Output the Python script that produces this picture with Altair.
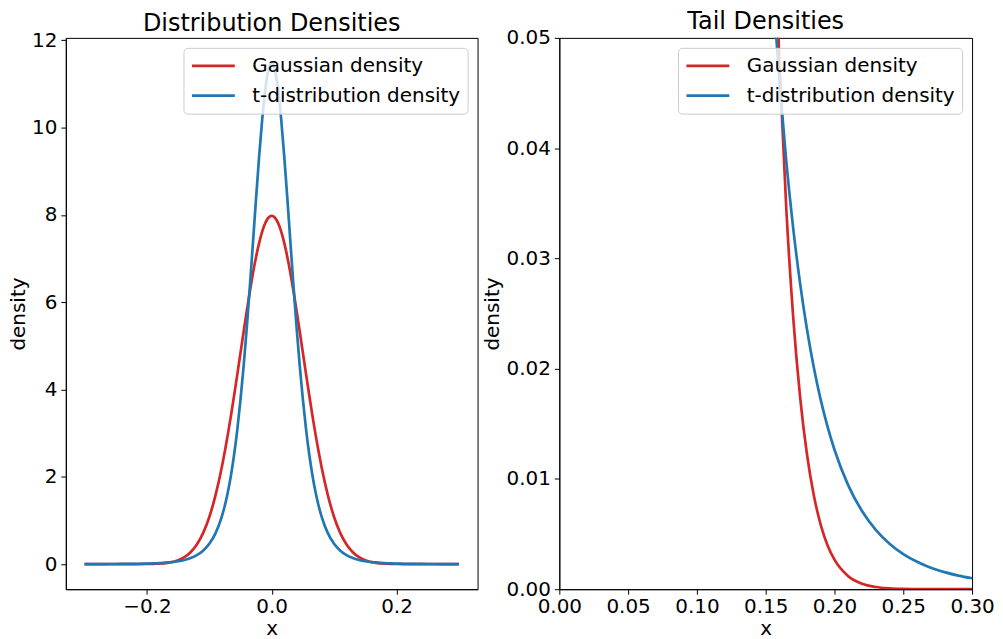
import altair as alt
import pandas as pd

# x positions (non-negative half; the curves are symmetric about 0)
x_pos = [0.0, 0.005, 0.01, 0.015, 0.02, 0.025, 0.03, 0.035, 0.04, 0.045, 0.05,
         0.055, 0.06, 0.065, 0.07, 0.075, 0.08, 0.09, 0.10, 0.11, 0.12, 0.13,
         0.14, 0.15, 0.155, 0.16, 0.165, 0.17, 0.175, 0.18, 0.185, 0.19, 0.195,
         0.20, 0.21, 0.22, 0.23, 0.24, 0.25, 0.26, 0.27, 0.28, 0.29, 0.30]

gauss_pos = [7.979, 7.939, 7.821, 7.628, 7.365, 7.041, 6.665, 6.245, 5.794, 5.322,
             4.839, 4.357, 3.884, 3.428, 2.995, 2.591, 2.218, 1.579, 1.080, 0.7095,
             0.4479, 0.2717, 0.1583, 0.08866, 0.06532, 0.04768, 0.03444, 0.02465,
             0.01745, 0.01224, 0.008497, 0.00584, 0.003966, 0.002676, 0.001177,
             0.000498, 0.000203, 0.000079, 0.00003, 0.000011, 0.000004, 0.000001,
             0.0, 0.0]

t_pos = [11.48, 11.33, 10.90, 10.22, 9.362, 8.390, 7.370, 6.361, 5.407, 4.537,
         3.766, 3.100, 2.533, 2.059, 1.669, 1.349, 1.089, 0.7098, 0.4647, 0.3068,
         0.2047, 0.1382, 0.09456, 0.06555, 0.05484, 0.04603, 0.03875, 0.03273,
         0.02773, 0.02357, 0.02008, 0.01717, 0.01472, 0.01265, 0.00942, 0.00709,
         0.00538, 0.00413, 0.00319, 0.00249, 0.00195, 0.00155, 0.00123, 0.00099]

series_names = ["Gaussian density", "t-distribution density"]
series_colors = ["#d62728", "#1f77b4"]

left_y_ticks = [0, 2, 4, 6, 8, 10, 12]
left_x_ticks = [-0.2, 0.0, 0.2]
right_x_ticks = [0.0, 0.05, 0.10, 0.15, 0.20, 0.25, 0.30]
right_y_ticks = [0.0, 0.01, 0.02, 0.03, 0.04, 0.05]

# full symmetric curves
x_full = [-v for v in reversed(x_pos[1:])] + x_pos
g_full = list(reversed(gauss_pos[1:])) + gauss_pos
t_full = list(reversed(t_pos[1:])) + t_pos

rows = []
for name, ys in zip(series_names, [g_full, t_full]):
    for xv, yv in zip(x_full, ys):
        rows.append({"x": xv, "density": yv, "series": name})
df = pd.DataFrame(rows)
df_right = df[df["x"] >= 0].reset_index(drop=True)

FONT = "DejaVu Sans"


def legend():
    return alt.Legend(
        title=None, orient="top-right", offset=10, padding=7,
        fillColor="rgba(255,255,255,0.8)", strokeColor="#cccccc",
        cornerRadius=4, labelFontSize=20, labelFont=FONT, labelColor="black",
        symbolType="stroke", symbolStrokeWidth=2.7, symbolSize=1850,
        clipHeight=22, labelOffset=16, rowPadding=8, labelLimit=400,
    )


def color_enc():
    return alt.Color("series:N",
                     scale=alt.Scale(domain=series_names, range=series_colors),
                     legend=legend())


def panel(data, xdom, ydom, xticks, yticks, xfmt, yfmt, width, title):
    x_enc = alt.X("x:Q", scale=alt.Scale(domain=xdom, nice=False, zero=False),
                  axis=alt.Axis(values=xticks, format=xfmt, title="x"))
    y_enc = alt.Y("density:Q", scale=alt.Scale(domain=ydom, nice=False, zero=False),
                  axis=alt.Axis(values=yticks, format=yfmt, title="density"))
    layers = []
    for name in series_names:
        layers.append(
            alt.Chart(data).transform_filter(alt.datum.series == name)
            .mark_line(strokeWidth=2.7, interpolate="monotone", clip=True)
            .encode(x=x_enc, y=y_enc, color=color_enc())
        )
    return alt.layer(*layers).properties(
        width=width, height=553,
        title=alt.TitleParams(title, frame="group"),
    )


left = panel(df, [-0.33, 0.33], [-0.574, 12.054], left_x_ticks, left_y_ticks,
             ".1f", "d", 413, "Distribution Densities")
right = panel(df_right, [0, 0.3], [0, 0.05], right_x_ticks, right_y_ticks,
              ".2f", ".2f", 414, "Tail Densities")

chart = alt.hconcat(left, right, spacing=3).resolve_scale(
    color="independent"
).resolve_legend(color="independent").properties(
    padding={"left": 0, "top": 0, "right": 0, "bottom": 0}
).configure(font=FONT).configure_view(
    stroke="black", strokeWidth=1
).configure_axis(
    labelFont=FONT, titleFont=FONT, labelFontSize=20, titleFontSize=20,
    titleFontWeight="normal", labelColor="black", titleColor="black",
    tickColor="black", domainColor="black", tickSize=5, labelPadding=4,
    grid=False, labelFlush=False, labelOverlap=False,
).configure_axisX(
    labelPadding=2, titlePadding=2,
).configure_axisY(
    titlePadding=3,
).configure_title(
    font=FONT, fontSize=24, fontWeight="normal", color="black", offset=-6, anchor="middle",
)

chart.save("out.html", embed_options={"renderer": "svg", "actions": False})
